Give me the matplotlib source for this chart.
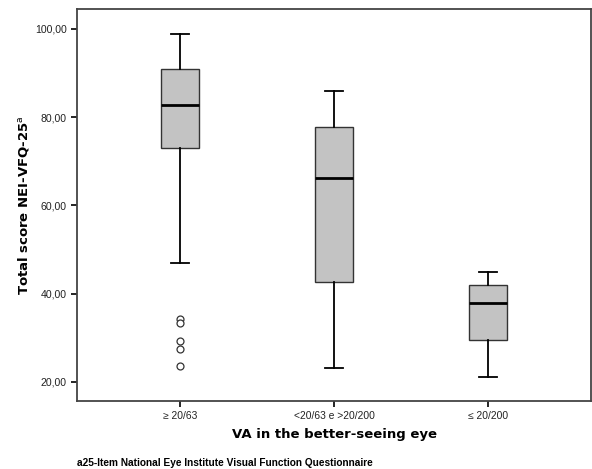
import matplotlib.pyplot as plt

# values
groups = ['\u2265 20/63', '<20/63 e >20/200', '\u2264 20/200']
whislo = [46.9, 23.1, 21.1]
q1 = [73.0, 42.6, 29.4]
med = [82.7, 66.3, 37.9]
q3 = [90.9, 77.8, 41.9]
whishi = [98.9, 86.0, 44.8]
fliers = [[34.2, 33.3, 29.3, 27.4, 23.6], [], []]
yticks = [20, 40, 60, 80, 100]

stats = []
for i in range(len(groups)):
    stats.append(dict(label=groups[i], whislo=whislo[i], q1=q1[i], med=med[i],
                      q3=q3[i], whishi=whishi[i], fliers=fliers[i]))

plt.rcParams['font.family'] = ['Liberation Sans', 'DejaVu Sans']

fig = plt.figure(figsize=(5.92, 4.69), dpi=100)
ax = fig.add_axes([77 / 592, 1 - 401 / 469, 514 / 592, 392 / 469])

ax.bxp(stats, positions=[1, 2, 3], widths=0.25, patch_artist=True,
       boxprops=dict(facecolor='#c3c3c3', edgecolor='#333333', linewidth=1.0),
       medianprops=dict(color='black', linewidth=2.0),
       whiskerprops=dict(color='black', linewidth=1.3),
       capprops=dict(color='black', linewidth=1.3),
       capwidths=0.12,
       flierprops=dict(marker='o', markerfacecolor='white', markeredgecolor='#333333',
                       markersize=5, markeredgewidth=0.9, linestyle='none'))

ax.set_xlim(1 / 3, 11 / 3)
ax.set_ylim(15.65, 104.5)
ax.set_yticks(yticks)
ax.set_yticklabels(['%d,00' % v for v in yticks], fontsize=7.6, color='#222222')
ax.tick_params(axis='x', labelsize=7.4, labelcolor='#222222')
ax.tick_params(direction='out', length=4, width=1.2)
for s in ax.spines.values():
    s.set_color('#444444')
    s.set_linewidth(1.3)

ax.set_ylabel('Total score NEI-VFQ-25$^{\\mathrm{a}}$', fontsize=9.5, fontweight='bold',
              family='DejaVu Sans')
ax.yaxis.set_label_coords(-0.09, 0.5)
ax.set_xlabel('VA in the better-seeing eye', fontsize=9.5, fontweight='bold',
              family='DejaVu Sans', labelpad=5)

fig.text(77 / 592, 1 - 463 / 469, 'a25-Item National Eye Institute Visual Function Questionnaire',
         fontsize=7.3, fontweight='bold', va='center')

fig.savefig('out.png', dpi=100)
